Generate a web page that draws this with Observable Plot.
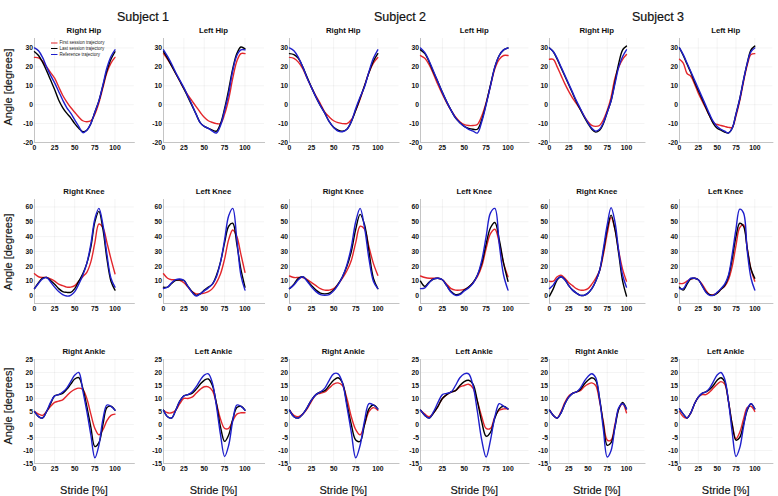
<!DOCTYPE html>
<html>
<head>
<meta charset="utf-8">
<script src="https://cdn.jsdelivr.net/npm/d3@7"></script>
<script src="https://cdn.jsdelivr.net/npm/@observablehq/plot@0.6"></script>
<style>
  html, body { margin: 0; padding: 0; background: #fff; }
  #root { position: relative; width: 778px; height: 496px; overflow: hidden; font-family: "Liberation Sans", Arial, sans-serif; }
  .abs { position: absolute; white-space: nowrap; }
  .subj { font-size: 12.5px; color: #111; transform: translate(-50%, -50%); -webkit-text-stroke: 0.2px #111; }
  .ptitle { font-size: 7.8px; font-weight: bold; color: #111; transform: translate(-50%, -50%); }
  .ylab { font-size: 11px; color: #111; transform: translate(-50%, -50%) rotate(-90deg); -webkit-text-stroke: 0.15px #111; }
  .xlab { font-size: 11px; color: #111; transform: translate(-50%, -50%); -webkit-text-stroke: 0.15px #111; }
  .legend { transform: scale(0.5); transform-origin: 0 0; font-size: 9px; color: #222; line-height: 11.5px; }
  .legend div { display: flex; align-items: center; }
  .legend span.sw { display: inline-block; width: 13px; height: 2.4px; margin-right: 4px; }
</style>
</head>
<body>
<div id="root"></div>
<script>
// ---------- data ----------
const stride = [0,5,10,15,20,25,30,35,40,45,50,55,60,65,70,75,80,85,90,95,100];
const xTicks = [0,25,50,75,100];
const subjects = ["Subject 1","Subject 2","Subject 3"];
const sides = ["Right","Left"];
const joints = ["Hip","Knee","Ankle"];
const seriesNames = ["First session trajectory","Last session trajectory","Reference trajectory"];
const hipTicks = [-20,-10,0,10,20,30];
const kneeTicks = [0,10,20,30,40,50,60];
const ankleTicks = [-15,-10,-5,0,5,10,15,20,25];
const hipDomain = [-20,35];
const kneeDomain = [-5,65];
const ankleDomain = [-15,25];

// Subject 1
const s1RightHipFirst = [25,24.8,23,20,17,14,9.5,5,1.5,-1.5,-4,-6.5,-8.5,-9,-8.5,-5,1,9,17,22,25];
const s1RightHipLast  = [28,26,22.5,18,13,8,2.5,-1.5,-4.5,-7,-10,-12.5,-14.3,-13.5,-10,-4,2,10,18,24,28];
const s1RightHipRef   = [30,28.5,25,20,15.5,11.5,7,2.5,-1.5,-4.5,-8,-11.5,-14.8,-13.5,-10,-4,2,10.5,19.5,25.5,29];
const s1LeftHipFirst  = [27,24,20.5,16.5,12.5,8.5,5,2,-1,-4,-6.7,-8.5,-9.4,-10,-10,-5,3,14,23,27,27];
const s1LeftHipLast   = [28,24.5,20.5,16.5,12.5,8.5,4,-0.5,-5,-9.5,-11.5,-12.5,-13.5,-14,-10,-2,8,19,27,30.5,29.5];
const s1LeftHipRef    = [29,25.5,21.5,17,13,9,4.5,0,-5,-9.5,-11.5,-12.5,-14,-15,-11,-3,6,18,26,29,29];
const s1RightKneeFirst = [15,13,12.5,12.5,11.5,10,8,7,6,6,7,10,13,16,23,36,48.5,46,36,25,15];
const s1RightKneeLast  = [5,9,12,12.5,10.5,8,5,3,2.5,2.5,5,10,15,22,33,50,57,45,25,10,4];
const s1RightKneeRef   = [5,8.5,11.5,12.5,9.5,6,3,1,0,0.5,3,8,14,22,35,52,59,48,28,12,6];
const s1LeftKneeFirst  = [15,12,11,11,10.5,9,6,3,1.5,1.5,2,3,5,9,15,25,38,44.5,40,28,16];
const s1LeftKneeLast   = [6,6,8.5,10.5,11,10.5,6.5,3,0.5,1.5,4,6,8,14,23,36,47,49,35,18,6];
const s1LeftKneeRef    = [5,6,9,11,11.5,10.5,6.5,2.5,0,1.5,3.5,5.5,8,13,23,38,54,59,38,14,4];
const s1RightAnkleFirst = [5,4,3.5,5,7,8.5,9,9.5,11,12.5,13.5,14,13.5,10,4,-1.5,-4,-2,1.5,3.5,4];
const s1RightAnkleLast  = [5,3,2.5,5,8,11,11.5,12,13.5,15.5,17.5,18,14,7,-1,-8.5,-7,0,6.5,7,5.5];
const s1RightAnkleRef   = [5,3,2.5,5,8.5,11,11.5,12.5,14,16.5,19,20,13,5,-4,-12.8,-8,2,7.5,7,5.5];
const s1LeftAnkleFirst  = [5.5,4.5,4.5,5.5,8,10,10,10.5,12,13.5,14.5,14.5,13,8,2,-1.5,-1.5,1.5,4,4.5,4.5];
const s1LeftAnkleLast   = [5.5,3,2.5,5.5,9,11,11.5,12,13.5,15.5,17,17.5,15,8,-1,-6.5,-4,2,6.5,7,5.5];
const s1LeftAnkleRef    = [5.5,3,2.5,5.5,9,11,11.5,12.5,14.5,17,19,19.5,16,7,-4,-12.3,-8,1.5,7.5,7,5.5];

// Subject 2
const s2RightHipFirst = [25,24.5,22.5,19,14,9,4.5,0.5,-4,-6.5,-8.5,-9.5,-10,-10,-8,-3,3,10,17,22,25];
const s2RightHipLast  = [27,26.5,24.5,20,14.5,9,4,-0.5,-4.5,-9,-12,-13.5,-14,-13,-9,-3,3.5,10,17,23,27];
const s2RightHipRef   = [30,28.5,25,20,14,9,4,-0.5,-4.5,-9,-12,-14,-14.3,-13,-9,-2,4,9.5,17.5,24.5,29];
const s2LeftHipFirst  = [26,24.5,21,16,10.5,5.5,1,-3,-6.5,-9,-10.5,-11,-11,-10.5,-6,1,10,19,24,26,26];
const s2LeftHipLast   = [29,27,22.5,17,12,6.5,1.5,-3,-7,-9.5,-11.5,-12.5,-13,-13,-8,0.5,10.5,20,26,29,30];
const s2LeftHipRef    = [30,27.5,23,17.5,12,6.5,1.5,-3,-7,-9.5,-11.5,-13,-14,-15,-9,0,10,20,26,29,30];
const s2RightKneeFirst = [13.5,12.5,12.5,12.5,11,9,7,5,4,4,5,8,12,17,24,36,47,45,33,22,14];
const s2RightKneeLast  = [5,8,12,13,10.5,7,4,2,1.5,2,4,8,13,20,30,45,55,48,30,12,5];
const s2RightKneeRef   = [5,7.5,11,13,10,6,3,1,0.5,1,3.5,7.5,13,21,33,50,59,46,25,10,5];
const s2LeftKneeFirst  = [13.5,12.5,12,12,12,11,8,5,4,4,4.5,6,9,13,20,32,42,45,36,22,13];
const s2LeftKneeLast   = [10,6.5,9.5,11.5,12,11,7,3,1,1.5,4,6,9,14,22,35,46,49.5,38,22,10];
const s2LeftKneeRef    = [5,5.5,9,11.5,12,11,7,2.5,0.5,1,3.5,5.5,8.5,14,24,40,56,59,35,14,4];
const s2RightAnkleFirst = [5.5,3.5,3,4,6,9,11.5,12,12.5,14,15.5,16,15,10,3,-2,-4,0,5,6.5,5.5];
const s2RightAnkleLast  = [5.5,3,2.5,4,6.5,9.5,11.5,12.5,13,15,17,18,16,8,0,-6,-6.5,0,6,7.5,6];
const s2RightAnkleRef   = [5.5,3,2.5,4,6.5,9.5,11.5,12.5,14,17,19.5,19.5,16,7,-3,-12.8,-8,1.5,8,7.5,6];
const s2LeftAnkleFirst  = [5.5,4,3,4.5,7,10,11.5,12.5,13,14.5,15,15.5,14,9,3,-1.5,-1.5,3,5.5,6,6];
const s2LeftAnkleLast   = [5.5,3.5,2.5,4.5,7,10,11.5,12.5,13,15,16.5,17,15.5,9,1,-4.5,-3,2.5,6,7,6];
const s2LeftAnkleRef    = [5.5,3.5,2.5,5,8.5,11.5,12,12.5,15,18,19.5,19.5,15,5,-6,-12.5,-6,3,8,7,6];

// Subject 3
const s3RightHipFirst = [24,24,20,15.5,11,7,3.5,0.5,-2.5,-6,-9,-11,-11.5,-11,-8,-3,4,14,20,24,26.5];
const s3RightHipLast  = [30,28,24,19.5,15,10.5,6,1.5,-2.5,-6.5,-10,-13,-14.5,-13.5,-10,-4,2,12,22,29,31];
const s3RightHipRef   = [30,28,24.5,20,15.5,11,6.5,2,-2,-6,-9.5,-12.5,-14,-13,-9.5,-4,2,11,20,25.5,29];
const s3LeftHipFirst  = [24,22,16.5,15,11,6,2,-2,-6,-9.5,-10.5,-11,-11.5,-12,-12,-6,2,12,21,26.5,27];
const s3LeftHipLast   = [30,26,21.5,17,12,7.5,3,-1.5,-6,-10,-12.5,-13.5,-14.5,-15,-12.5,-5,3,13,22,29,31];
const s3LeftHipRef    = [30,26.5,22,17.5,13,8.5,4,-0.5,-5,-9,-11.5,-13,-14,-15,-12.5,-5,3,13,22,28,30];
const s3RightKneeFirst = [10,10,13,14,12,9,7,5,4,4,5,8,12,17,28,42,53,45,30,18,10];
const s3RightKneeLast  = [0,5,11,13,11,7,4,2,0.5,0.5,2,5,10,17,30,45,54.5,45,28,10,0];
const s3RightKneeRef   = [5,7.5,11.5,13,11,7,4,2,0.5,0.5,2,5,10,17,32,48,59.5,50,30,14,6];
const s3LeftKneeFirst  = [8.5,8.5,10,11.5,12,11,8,4,1,1,2,4.5,6.5,11,20,34,46,48,32,18,10];
const s3LeftKneeLast   = [6,4,8,11.5,12,11,7,3,1,0.5,2,4.5,7,13,25,40,49,47,32,18,12];
const s3LeftKneeRef    = [5,5,9,12,12,11,7,2.5,0.5,0.5,2.5,5,8,14,28,45,58.5,56,30,12,4];
const s3RightAnkleFirst = [5.5,3.5,2.5,5,8.5,11,12,12.5,13,14.5,15.5,16,15,9,1,-6,-6,0,6,8,4.5];
const s3RightAnkleLast  = [5.5,3.5,2.5,4.5,8,10.5,12,12.5,13.5,15.5,17,18,17,10,0,-8,-7,-1,6,8.5,6];
const s3RightAnkleRef   = [5.5,3.5,2.5,4.5,8,10.5,12,12.5,14,16.5,18.5,19.5,18,10,-2,-12.5,-10,-1,6.5,8,6];
const s3LeftAnkleFirst  = [5,3,2.5,4.5,8,10.5,11.5,11.5,12.5,14,15.5,16.5,15.5,9,0,-5.5,-3,2,6.5,7,5];
const s3LeftAnkleLast   = [6,4,2.5,4.5,8,10.5,12,12.5,13.5,15,17,18,16.5,9,0,-6,-5,0,5.5,8,6];
const s3LeftAnkleRef    = [6,4,2.5,4.5,8,10.5,12,12.5,14,16.5,19,20,17.5,9,-3,-12.3,-9,-1,6,8,6];

const panels = [
  [[s1RightHipFirst,s1RightHipLast,s1RightHipRef],[s1LeftHipFirst,s1LeftHipLast,s1LeftHipRef],
   [s2RightHipFirst,s2RightHipLast,s2RightHipRef],[s2LeftHipFirst,s2LeftHipLast,s2LeftHipRef],
   [s3RightHipFirst,s3RightHipLast,s3RightHipRef],[s3LeftHipFirst,s3LeftHipLast,s3LeftHipRef]],
  [[s1RightKneeFirst,s1RightKneeLast,s1RightKneeRef],[s1LeftKneeFirst,s1LeftKneeLast,s1LeftKneeRef],
   [s2RightKneeFirst,s2RightKneeLast,s2RightKneeRef],[s2LeftKneeFirst,s2LeftKneeLast,s2LeftKneeRef],
   [s3RightKneeFirst,s3RightKneeLast,s3RightKneeRef],[s3LeftKneeFirst,s3LeftKneeLast,s3LeftKneeRef]],
  [[s1RightAnkleFirst,s1RightAnkleLast,s1RightAnkleRef],[s1LeftAnkleFirst,s1LeftAnkleLast,s1LeftAnkleRef],
   [s2RightAnkleFirst,s2RightAnkleLast,s2RightAnkleRef],[s2LeftAnkleFirst,s2LeftAnkleLast,s2LeftAnkleRef],
   [s3RightAnkleFirst,s3RightAnkleLast,s3RightAnkleRef],[s3LeftAnkleFirst,s3LeftAnkleLast,s3LeftAnkleRef]]
];
const rowTicks = [hipTicks, kneeTicks, ankleTicks];
const rowDomains = [hipDomain, kneeDomain, ankleDomain];

// ---------- layout / style ----------
const colors = ["#e3262b", "#000000", "#1f1fcc"];
const xMax = 124;
const colX0 = [34, 163, 288.5, 420, 549, 679];
const colPPU = [0.805, 0.815, 0.883, 0.875, 0.77, 0.753];
const rowTop = [38, 198.5, 359];
const frameH = 104;
const ML = 22, MR = 4, MT = 4, MB = 14;
const subjCenters = [143, 400, 658];
const ylabCenters = [87, 252, 406];

const root = document.getElementById("root");
function addDiv(cls, text, x, y) {
  const d = document.createElement("div");
  d.className = "abs " + cls;
  d.textContent = text;
  d.style.left = x + "px";
  d.style.top = y + "px";
  root.appendChild(d);
  return d;
}

for (let r = 0; r < 3; r++) {
  for (let c = 0; c < 6; c++) {
    const ser = panels[r][c];
    const rows = [];
    ser.forEach((vals, si) => {
      vals.forEach((v, i) => rows.push({x: stride[i], y: v, series: seriesNames[si]}));
    });
    const fw = xMax * colPPU[c];
    const chart = Plot.plot({
      width: ML + fw + MR,
      height: MT + frameH + MB,
      marginLeft: ML, marginRight: MR, marginTop: MT, marginBottom: MB,
      style: {fontFamily: "'Liberation Sans', Arial, sans-serif", fontSize: "6.8px", fontWeight: "bold", background: "transparent", overflow: "visible", color: "#111"},
      x: {domain: [0, xMax], label: null},
      y: {domain: rowDomains[r], label: null},
      color: {domain: seriesNames, range: colors},
      marks: [
        Plot.gridX(xTicks, {stroke: "#000", strokeOpacity: 0.05}),
        Plot.gridY(rowTicks[r], {stroke: "#000", strokeOpacity: 0.05}),
        Plot.frame({anchor: "left", stroke: "#c4c4c4"}),
        Plot.frame({anchor: "bottom", stroke: "#c4c4c4"}),
        Plot.axisX(xTicks, {tickSize: 0, tickPadding: 2.5, tickFormat: d => String(d), label: null}),
        Plot.axisY(rowTicks[r], {tickSize: 0, tickPadding: 1.5, tickFormat: d => String(d), label: null}),
        Plot.line(rows, {x: "x", y: "y", z: "series", stroke: "series", curve: "catmull-rom", strokeWidth: 1.4})
      ]
    });
    chart.style.position = "absolute";
    chart.style.left = (colX0[c] - ML) + "px";
    chart.style.top = (rowTop[r] - MT) + "px";
    root.appendChild(chart);
    addDiv("ptitle", sides[c % 2] + " " + joints[r], colX0[c] + fw / 2, rowTop[r] - 8);
    if (r === 2) addDiv("xlab", "Stride [%]", colX0[c] + fw / 2, 490);
  }
}
subjects.forEach((s, i) => addDiv("subj", s, subjCenters[i], 17));
ylabCenters.forEach(y => addDiv("ylab", "Angle [degrees]", 8, y));

// legend (first panel)
const lg = document.createElement("div");
lg.className = "abs legend";
lg.style.left = "51px";
lg.style.top = "39.8px";
seriesNames.forEach((n, i) => {
  const row = document.createElement("div");
  const sw = document.createElement("span");
  sw.className = "sw";
  sw.style.background = colors[i];
  row.appendChild(sw);
  row.appendChild(document.createTextNode(n));
  lg.appendChild(row);
});
root.appendChild(lg);
</script>
</body>
</html>
